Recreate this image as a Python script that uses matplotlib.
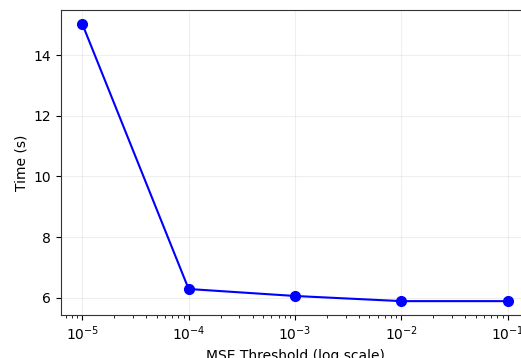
import matplotlib
matplotlib.use("Agg")
import matplotlib.pyplot as plt

thresholds = [1e-5, 1e-4, 1e-3, 1e-2, 1e-1]
times = [15.03, 6.29, 6.06, 5.89, 5.89]

fig = plt.figure(figsize=(5.21, 3.58), dpi=100)
# axes run past the right/bottom edge, as in the cropped reference
ax = fig.add_axes([61 / 521, 43 / 358, 468 / 521, 305 / 358])

ax.plot(thresholds, times, "o-", color="blue", linewidth=1.5, markersize=7)
ax.set_xscale("log")
ax.set_xlabel("MSE Threshold (log scale)")
ax.set_ylabel("Time (s)")
ax.grid(True, alpha=0.2)
for s in ax.spines.values():
    s.set_color("#333333")

fig.savefig("out.png", dpi=100)
